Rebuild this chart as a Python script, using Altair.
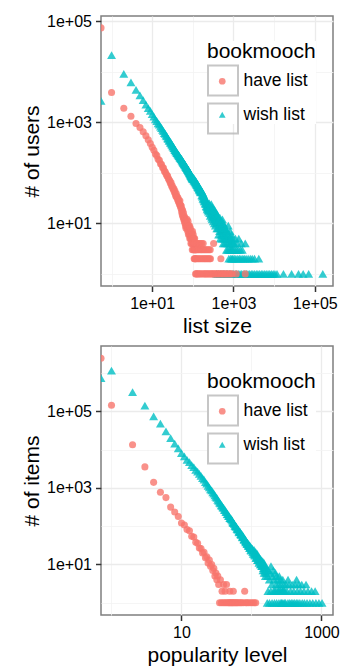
import altair as alt
import pandas as pd

SERIES = ["have list", "wish list"]
COLORS = ["#F8766D", "#00BFC4"]
SHAPES = ["circle", "triangle-up"]
FONT = "Liberation Sans"

# ---------------- top panel: list size vs # of users ----------------
top_have_head_x = list(range(0, 11))
top_have_head_y = [74000, 3900, 1900, 1320, 950, 790, 650, 540, 450, 380, 320]
top_have_mid_x = list(range(11, 121))
top_have_mid_y = [281, 236, 219, 186, 177, 151, 146, 128, 124, 108,
                  104, 95, 88, 86, 77, 73, 70, 62, 64, 55,
                  56, 50, 47, 49, 42, 44, 38, 35, 39, 33,
                  34, 30, 32, 27, 29, 26, 24, 28, 22, 23,
                  20, 22, 17, 19, 15, 18, 14, 13, 16, 12,
                  14, 11, 13, 10, 12, 9, 11, 8, 10, 9,
                  10, 12, 8, 9, 7, 11, 8, 6, 9, 7,
                  8, 6, 9, 5, 7, 6, 8, 5, 6, 4,
                  7, 5, 6, 4, 5, 6, 3, 7, 4, 5,
                  4, 6, 3, 5, 4, 3, 5, 2, 4, 3,
                  5, 2, 3, 4, 2, 3, 1, 4, 2, 3]
top_have_y4_x = [124, 131, 140, 152, 166, 180, 325]
top_have_y3_x = [125, 134, 143, 155, 163, 175, 188, 200, 215, 232, 250, 268]
top_have_y2_x = [127, 137, 146, 158, 170, 183, 196, 209, 224, 240, 258, 272, 490]
top_have_y1_x = [122, 129, 139, 149, 161, 178, 192, 206, 221, 238, 255, 279, 295,
                 318, 342, 368, 395, 425, 458, 495, 535, 580, 630, 690, 760, 840,
                 930, 1170, 1950]

top_wish_head_x = list(range(0, 11))
top_wish_head_y = [2650, 21500, 9100, 6150, 4400, 3400, 2750, 2250, 1920, 1680, 1450]
top_wish_a_x = list(range(11, 51))
top_wish_a_y = [1300, 1140, 1060, 950, 900, 820, 770, 705, 668, 610,
                590, 545, 525, 484, 472, 436, 428, 398, 390, 365,
                358, 336, 330, 309, 304, 286, 283, 266, 265, 250,
                247, 243, 232, 229, 221, 214, 212, 203, 201, 196]
top_wish_b_x = list(range(51, 101))
top_wish_b_y = [192, 186, 184, 176, 177, 168, 167, 160, 161, 155,
                151, 150, 146, 145, 139, 140, 133, 131, 132, 126,
                125, 124, 118, 121, 115, 113, 116, 109, 107, 110,
                104, 106, 99, 101, 96, 98, 92, 94, 88, 91,
                86, 89, 83, 85, 80, 84, 78, 81, 75, 79]
top_wish_c_x = list(range(102, 161, 2))
top_wish_c_y = [74, 80, 70, 76, 68, 72, 65, 70, 62, 66, 59, 64, 57, 61, 54,
                58, 52, 57, 50, 53, 47, 52, 46, 49, 44, 48, 42, 46, 41, 44]
top_wish_d_x = list(range(163, 251, 3))
top_wish_d_y = [45, 36, 42, 34, 40, 31, 38, 30, 35, 28, 34, 27, 31, 25, 30,
                24, 29, 22, 27, 21, 26, 19, 25, 20, 23, 18, 22, 17, 24, 19]
top_wish_e_x = list(range(255, 401, 5))
top_wish_e_y = [25, 16, 22, 14, 20, 15, 24, 13, 18, 12, 21, 14, 17, 11, 19,
                13, 16, 10, 18, 12, 15, 9, 17, 11, 14, 10, 13, 8, 15, 10]
top_wish_f_x = list(range(408, 641, 8))
top_wish_f_y = [14, 8, 11, 6, 12, 9, 7, 13, 5, 10, 8, 6, 11, 7, 9,
                5, 12, 6, 8, 4, 10, 7, 5, 9, 6, 4, 8, 5, 7, 6]
top_wish_g_x = list(range(650, 999, 12))
top_wish_g_y = [8, 5, 3, 7, 4, 6, 3, 5, 9, 4, 2, 6, 3, 5, 4,
                7, 3, 2, 5, 4, 3, 6, 2, 4, 3, 5, 2, 4, 3, 4]
top_wish_y1_x = [387, 421, 471, 521, 561, 611, 671, 723, 791, 861, 931, 1010, 1100,
                 1200, 1320, 1450, 1580, 1730, 1900, 2080, 2280, 2500, 2750, 3000,
                 3300, 3650, 4000, 4400, 4850, 5300, 5850, 6400, 7100, 7800, 8600,
                 9500, 10500, 11800, 17000, 27000, 40000, 52000, 71000, 158000]
top_wish_y2_x = [1050, 1150, 1280, 1400, 1530, 1700, 1850, 2050, 2300, 2600, 2900, 3300, 4200]
top_wish_y3_x = [1080, 1190, 1310, 1480, 1650]
top_wish_y4_x = [1040, 1230, 1560, 1950]
top_wish_y5_x = [1120, 1350]

# ---------------- bottom panel: popularity level vs # of items ----------------
bot_have_head_x = list(range(0, 11))
bot_have_head_y = [2450000, 145000, 13500, 3550, 1400, 770, 560, 316, 235, 180, 122]
bot_have_mid_x = list(range(11, 41))
bot_have_mid_y = [108, 82, 76, 55, 52, 38, 36, 27, 26, 20, 21, 15, 16, 11, 13,
                  9, 10, 7, 8, 5, 6, 4, 5, 3, 1, 4, 1, 2, 1, 3]
bot_have_y3_x = [44]
bot_have_y2_x = [42, 49, 55, 80]
bot_have_y1_x = [41, 43, 45, 47, 48, 50, 51, 53, 54, 56, 58, 60, 62, 64, 67, 70,
                 73, 77, 83, 86, 91, 97, 103, 109, 115]

bot_wish_head_x = list(range(0, 11))
bot_wish_head_y = [740000, 1170000, 318000, 141000, 74000, 48000, 30000, 20000,
                   14500, 10800, 8100]
bot_wish_a_x = list(range(11, 51))
bot_wish_a_y = [6700, 5450, 4700, 3950, 3480, 2980, 2670, 2330, 2070, 1800,
                1640, 1420, 1300, 1140, 1040, 925, 860, 765, 712, 640,
                585, 548, 490, 462, 414, 394, 352, 341, 309, 300,
                268, 262, 236, 233, 208, 205, 184, 183, 164, 163]
bot_wish_b_x = list(range(51, 101))
bot_wish_b_y = [155, 150, 141, 127, 123, 121, 114, 104, 99, 101,
                96, 86, 83, 84, 81, 72, 69, 73, 70, 62,
                59, 63, 60, 53, 51, 55, 52, 45, 44, 47,
                45, 40, 38, 41, 40, 35, 34, 37, 35, 31,
                30, 33, 31, 27, 27, 30, 28, 24, 23, 27]
bot_wish_c_x = list(range(103, 161, 3))
bot_wish_c_y = [26, 19, 24, 17, 21, 15, 19, 13, 16, 12, 14, 10, 13, 9, 12, 8, 11, 7, 9, 6]
bot_wish_d_x = list(range(104, 162, 3))
bot_wish_d_y = [21, 23, 18, 20, 15, 17, 13, 15, 11, 14, 10, 12, 9, 10, 7, 10, 6, 8, 5, 7]
bot_wish_e_x = list(range(165, 301, 5))
bot_wish_e_y = [8, 5, 7, 4, 6, 9, 3, 5, 7, 4, 2, 6, 3, 5, 4, 2, 3, 5, 2, 4, 3, 1, 2, 4, 2, 3, 1, 2]
bot_wish_y4_x = [333, 441]
bot_wish_y3_x = [312, 344, 382, 423, 472, 523, 602]
bot_wish_y2_x = [172, 189, 207, 224, 242, 258, 276, 293, 322, 362, 402, 452, 502,
                 563, 641, 722, 812]
bot_wish_y1_x = [168, 181, 197, 213, 229, 247, 263, 281, 307, 332, 352, 371, 391,
                 412, 437, 461, 491, 531, 571, 622, 683, 751, 833, 921, 1020]


def frame(series, parts):
    xs, ys = [], []
    for px, py in parts:
        if not isinstance(py, list):
            py = [py] * len(px)
        xs += px
        ys += py
    return pd.DataFrame({"x": xs, "y": ys, "series": series, "box": series})


top_df = pd.concat([
    frame("wish list", [(top_wish_head_x, top_wish_head_y), (top_wish_a_x, top_wish_a_y),
                        (top_wish_b_x, top_wish_b_y), (top_wish_c_x, top_wish_c_y),
                        (top_wish_d_x, top_wish_d_y), (top_wish_e_x, top_wish_e_y),
                        (top_wish_f_x, top_wish_f_y), (top_wish_g_x, top_wish_g_y),
                        (top_wish_y1_x, 1), (top_wish_y2_x, 2), (top_wish_y3_x, 3),
                        (top_wish_y4_x, 4), (top_wish_y5_x, 5)]),
    frame("have list", [(top_have_head_x, top_have_head_y), (top_have_mid_x, top_have_mid_y),
                        (top_have_y4_x, 4), (top_have_y3_x, 3), (top_have_y2_x, 2),
                        (top_have_y1_x, 1)]),
], ignore_index=True)

bot_df = pd.concat([
    frame("wish list", [(bot_wish_head_x, bot_wish_head_y), (bot_wish_a_x, bot_wish_a_y),
                        (bot_wish_b_x, bot_wish_b_y), (bot_wish_c_x, bot_wish_c_y),
                        (bot_wish_d_x, bot_wish_d_y), (bot_wish_e_x, bot_wish_e_y),
                        (bot_wish_y4_x, 4), (bot_wish_y3_x, 3), (bot_wish_y2_x, 2),
                        (bot_wish_y1_x, 1)]),
    frame("have list", [(bot_have_head_x, bot_have_head_y), (bot_have_mid_x, bot_have_mid_y),
                        (bot_have_y3_x, 3), (bot_have_y2_x, 2), (bot_have_y1_x, 1)]),
], ignore_index=True)

MAJOR = "round(log(datum.value)/LN10) % 2 == 1"
EXP_LABEL = "'1e+0' + round(log(datum.value)/LN10)"
PLAIN_LABEL = "format(datum.value, 'd')"


def axis(title, values, label):
    return alt.Axis(
        title=title, values=values,
        labelExpr=f"{MAJOR} ? {label} : ''",
        domain=False, labelOverlap=False, labelFlush=False, grid=True,
        gridColor={"condition": {"test": MAJOR, "value": "#EBEBEB"}, "value": "#F3F3F3"},
        gridWidth={"condition": {"test": MAJOR, "value": 1.3}, "value": 0.8},
        tickColor={"condition": {"test": MAJOR, "value": "#333333"}, "value": "transparent"},
    )


def panel(df, xdom, ydom, xvals, yvals, xtitle, ytitle, xlabel, ylabel, h):
    lx, ly = 106, 25
    color_legend = alt.Legend(
        title="bookmooch", orient="none", legendX=lx, legendY=ly, padding=0,
        titleFontSize=21, titleFontWeight="normal", titleColor="black", titleFont=FONT,
        titlePadding=10.5, labelFontSize=17.5, labelColor="black", labelFont=FONT,
        labelOffset=12.5, rowPadding=14.5, symbolSize=45, symbolOffset=6.5,
        symbolOpacity=0.8, fillColor="white", zindex=1,
    )
    box_legend = alt.Legend(
        title=None, orient="none", legendX=lx, legendY=ly + 23.5, padding=0,
        labelFontSize=17, labelExpr="''", labelFont=FONT,
        labelOffset=0, rowPadding=0, symbolType="square", symbolSize=900,
        symbolStrokeWidth=2, symbolStrokeColor="#b8b8b8", symbolFillColor="transparent",
        zindex=2,
    )
    return alt.Chart(df).mark_point(filled=True, clip=True).encode(
        x=alt.X("x:Q", scale=alt.Scale(type="log", domain=xdom, clamp=True, nice=False),
                axis=axis(xtitle, xvals, xlabel)),
        y=alt.Y("y:Q", scale=alt.Scale(type="log", domain=ydom, clamp=True, nice=False),
                axis=axis(ytitle, yvals, ylabel)),
        color=alt.Color("series:N", scale=alt.Scale(domain=SERIES, range=COLORS),
                        legend=color_legend),
        shape=alt.Shape("series:N", scale=alt.Scale(domain=SERIES, range=SHAPES),
                        legend=color_legend),
        opacity=alt.Opacity("box:N", scale=alt.Scale(range=[0.8, 0.8]),
                            legend=box_legend),
        size=alt.condition("datum.series == 'wish list'", alt.value(80), alt.value(50)),
    ).properties(width=232, height=h)


top = panel(top_df, [10 ** -0.26, 10 ** 5.45], [10 ** -0.24, 10 ** 5.105],
            [1, 10, 100, 1000, 10000, 100000], [1, 10, 100, 1000, 10000, 100000],
            "list size", "# of users", EXP_LABEL, EXP_LABEL, 270)
bottom = panel(bot_df, [10 ** -0.15, 10 ** 3.165], [10 ** -0.32, 10 ** 6.71],
               [1, 10, 100, 1000], [1, 10, 100, 1000, 10000, 100000, 1000000],
               "popularity level", "# of items", PLAIN_LABEL, EXP_LABEL, 269)

chart = alt.vconcat(top, bottom, spacing=7).resolve_scale(
    color="independent", shape="independent", opacity="independent"
).resolve_legend(
    color="independent", shape="independent", opacity="independent"
).properties(
    padding={"left": 20, "top": 12, "right": 0, "bottom": 0}
).configure(font=FONT).configure_view(
    stroke="#7f7f7f", strokeWidth=1.5
).configure_axis(
    labelFont=FONT, labelFontSize=16, labelColor="black", labelPadding=4,
    titleFont=FONT, titleFontSize=21, titleFontWeight="normal", titleColor="black",
    titlePadding=4, tickSize=5.5, tickWidth=1.5,
)

chart.save("out.html", embed_options={"renderer": "svg", "actions": False})
